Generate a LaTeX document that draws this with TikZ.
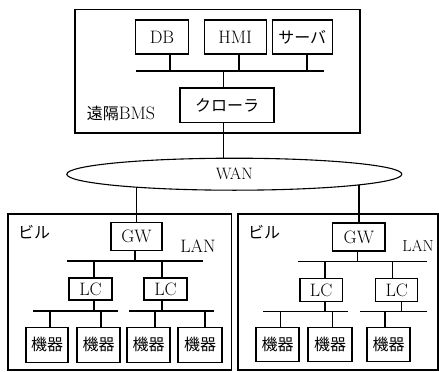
\documentclass[tikz,border=0pt]{standalone}
\usepackage{fontspec}
\newfontfamily\jp{Noto Sans CJK JP}
\usetikzlibrary{shapes.geometric,backgrounds}
\begin{document}
\begin{tikzpicture}[x=1pt,y=-1pt,
  box/.style={draw,line width=1.1pt,fill=white,inner sep=0pt,font=\fontsize{18}{20}\selectfont},
  jbox/.style={box,font=\jp\fontsize{16}{18}\selectfont},
  outer/.style={draw,line width=1.1pt,inner sep=0pt},
  wire/.style={line width=1.1pt},
  bus/.style={line width=1.5pt},
  lbl/.style={inner sep=0pt,font=\fontsize{18}{20}\selectfont},
  jlbl/.style={inner sep=0pt,font=\jp\fontsize{16}{18}\selectfont}]
\useasboundingbox (0,0) rectangle (439,372);
% ---------- remote BMS ----------
\node[outer,minimum width=285pt,minimum height=123.5pt] (bms) at (217.5,71.25) {};
\node[box,minimum width=52.6pt,minimum height=34pt] (db) at (162,37) {DB};
\node[box,minimum width=61.7pt,minimum height=34pt] (hmi) at (235.2,37) {HMI};
\node[jbox,minimum width=59.7pt,minimum height=34pt] (srv) at (302.2,37) {サーバ};
\node[jbox,minimum width=94pt,minimum height=34.7pt] (crw) at (227,105.3) {クローラ};
\node[anchor=west,inner sep=0pt] (bmslbl) at (86.7,113) {{\jp\fontsize{16}{18}\selectfont 遠隔}{\fontsize{18}{20}\selectfont BMS}};
% ---------- WAN ----------
\node[draw,ellipse,line width=1.1pt,fill=white,inner sep=0pt,minimum width=335pt,minimum height=32pt,font=\fontsize{16.5}{18}\selectfont] (wan) at (234.3,174.2) {WAN};
% ---------- left building ----------
\node[outer,minimum width=223.7pt,minimum height=156pt] (bldL) at (119.85,292) {};
\node[jlbl,anchor=west] (bilL) at (18,232) {ビル};
\node[box,minimum width=51pt,minimum height=28pt] (gwL) at (136.5,236.7) {GW};
\node[lbl] (lanL) at (198,246) {LAN};
\node[box,minimum width=43pt,minimum height=22pt] (lcL1) at (90.5,289) {LC};
\node[box,minimum width=43pt,minimum height=22pt] (lcL2) at (165.5,289) {LC};
\node[jbox,minimum width=42pt,minimum height=34.3pt] (dL1) at (47,344.9) {機器};
\node[jbox,minimum width=43pt,minimum height=34.3pt] (dL2) at (98.5,344.9) {機器};
\node[jbox,minimum width=43pt,minimum height=34.3pt] (dL3) at (148.5,344.9) {機器};
\node[jbox,minimum width=44pt,minimum height=34.3pt] (dL4) at (200,344.9) {機器};
% ---------- right building ----------
\node[outer,minimum width=200pt,minimum height=156pt] (bldR) at (338,292) {};
\node[jlbl,anchor=west] (bilR) at (248,232) {ビル};
\node[box,minimum width=52.3pt,minimum height=28pt] (gwR) at (358.85,237) {GW};
\node[lbl,font=\fontsize{16}{18}\selectfont] (lanR) at (418,246) {LAN};
\node[box,minimum width=42.3pt,minimum height=23.4pt] (lcR1) at (321.15,290) {LC};
\node[box,minimum width=42pt,minimum height=23.4pt] (lcR2) at (396.7,290) {LC};
\node[jbox,minimum width=43pt,minimum height=34.6pt] (dR1) at (277.5,344.6) {機器};
\node[jbox,minimum width=44pt,minimum height=34.6pt] (dR2) at (330,344.6) {機器};
\node[jbox,minimum width=43pt,minimum height=34.6pt] (dR3) at (388.5,344.6) {機器};
% ---------- bus coordinates ----------
\coordinate (b0l) at (136,71);   \coordinate (b0r) at (324,71);
\coordinate (lanLl) at (67,261); \coordinate (lanLr) at (203,261);
\coordinate (lcbL1l) at (33,311);  \coordinate (lcbL1r) at (118,311);
\coordinate (lcbL2l) at (129,311); \coordinate (lcbL2r) at (214,311);
\coordinate (lanRl) at (297.7,261.5); \coordinate (lanRr) at (426.7,261.5);
\coordinate (lcbR1l) at (263,311.5);  \coordinate (lcbR1r) at (348,311.5);
\coordinate (lcbR2l) at (360,311.5);  \coordinate (lcbR2r) at (426.7,311.5);
\begin{scope}[on background layer]
  % BMS
  \draw[bus] (b0l) -- (b0r);
  \draw[wire] (170,71) -- (170,71 |- db.south);
  \draw[wire] (239,71) -- (239,71 |- hmi.south);
  \draw[wire] (307,71) -- (307,71 |- srv.south);
  \draw[wire] (223.3,71) -- (223.3,71 |- wan.center);
  % left building
  \draw[wire] (gwL.north) -- (gwL.north |- wan.center);
  \draw[bus] (lanLl) -- (lanLr);
  \draw[wire] (gwL.south -| 135,0) -- (135,0 |- lanLl);
  \draw[wire] (94,0 |- lanLl) -- (94,0 |- lcbL1l);
  \draw[wire] (162,0 |- lanLl) -- (162,0 |- lcbL2l);
  \draw[bus] (lcbL1l) -- (lcbL1r);
  \draw[bus] (lcbL2l) -- (lcbL2r);
  \draw[wire] (50,0 |- lcbL1l) -- (50,0 |- dL1.north);
  \draw[wire] (101,0 |- lcbL1l) -- (101,0 |- dL2.north);
  \draw[wire] (155,0 |- lcbL2l) -- (155,0 |- dL3.north);
  \draw[wire] (205,0 |- lcbL2l) -- (205,0 |- dL4.north);
  % right building
  \draw[wire] (359,0 |- gwR.north) -- (359,0 |- wan.center);
  \draw[bus] (lanRl) -- (lanRr);
  \draw[wire] (357.7,0 |- gwR.south) -- (357.7,0 |- lanRl);
  \draw[wire] (325,0 |- lanRl) -- (325,0 |- lcbR1l);
  \draw[wire] (392.7,0 |- lanRl) -- (392.7,0 |- lcR2.north);
  \draw[wire] (401.7,0 |- lcR2.south) -- (401.7,0 |- lcbR2l);
  \draw[bus] (lcbR1l) -- (lcbR1r);
  \draw[bus] (lcbR2l) -- (lcbR2r);
  \draw[wire] (280.7,0 |- lcbR1l) -- (280.7,0 |- dR1.north);
  \draw[wire] (332.7,0 |- lcbR1l) -- (332.7,0 |- dR2.north);
  \draw[wire] (385,0 |- lcbR2l) -- (385,0 |- dR3.north);
\end{scope}
\end{tikzpicture}
\end{document}
